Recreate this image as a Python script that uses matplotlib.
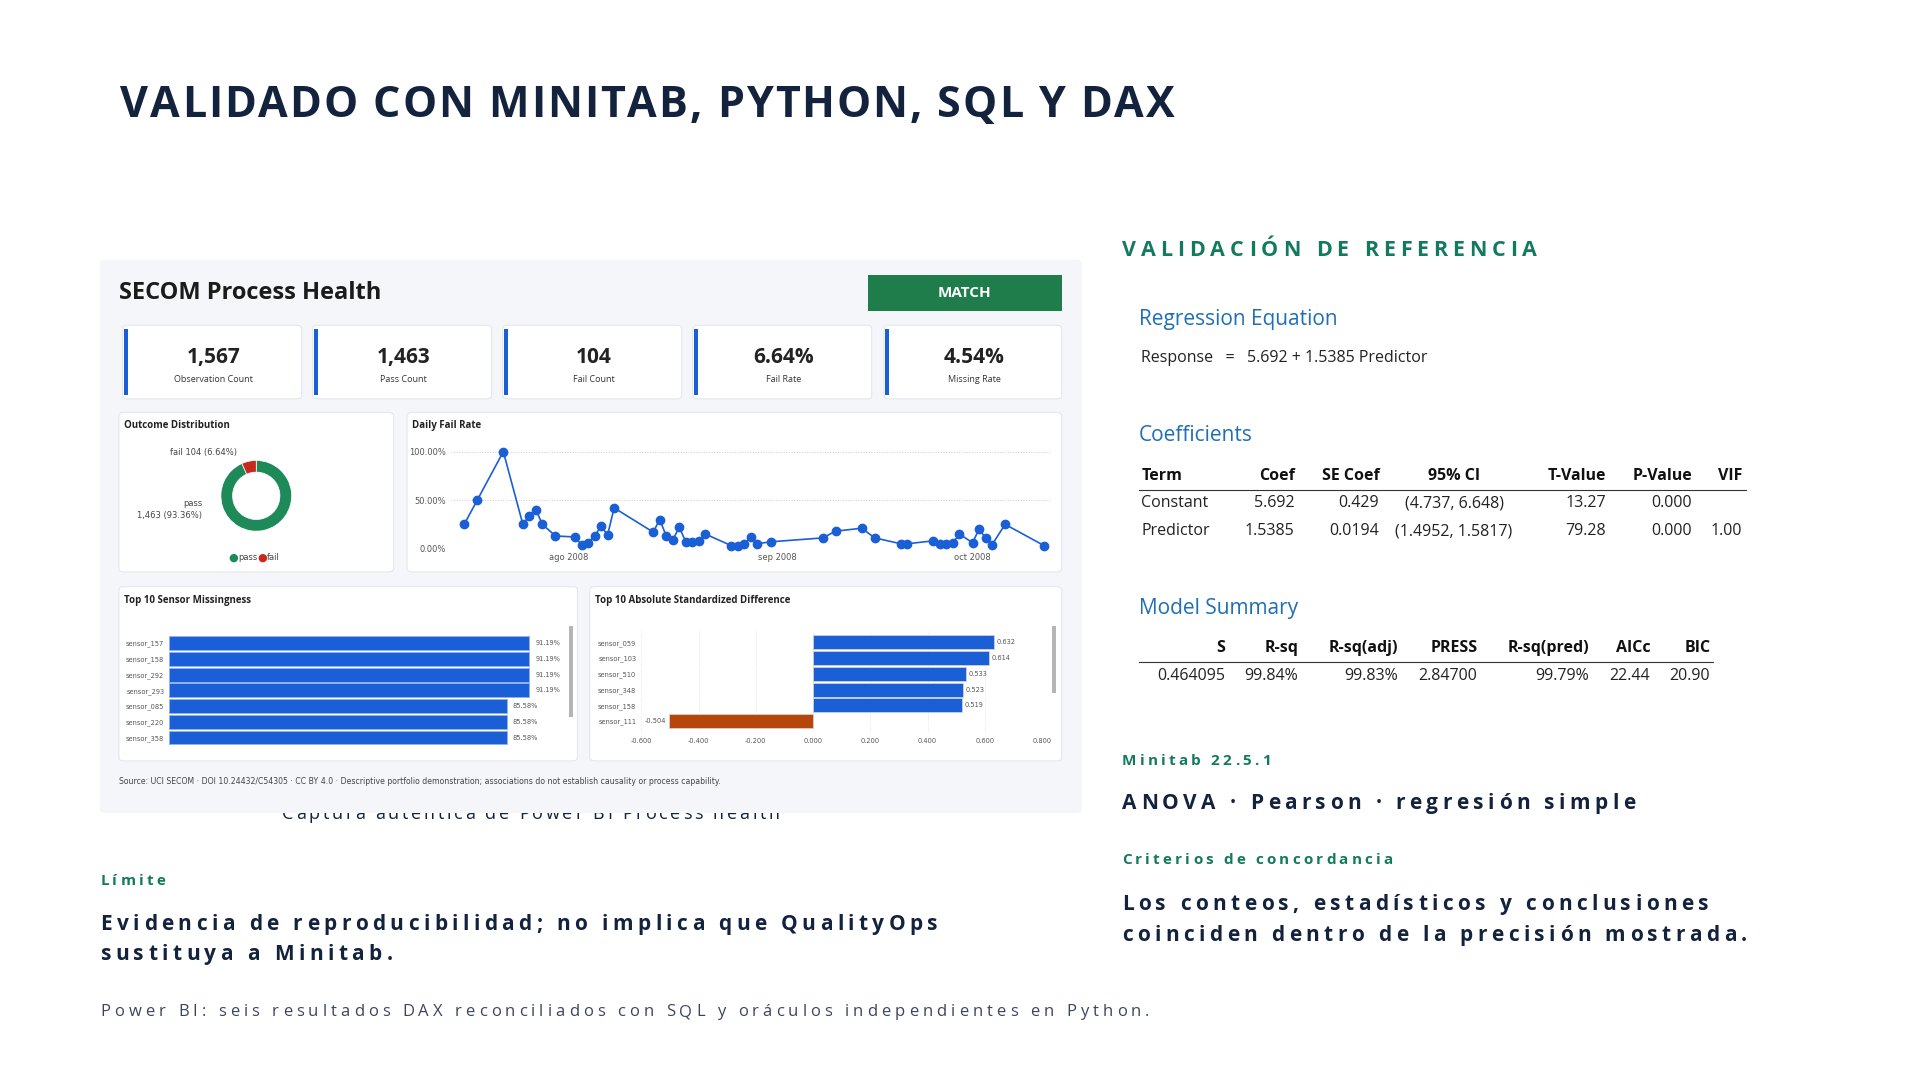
import matplotlib.pyplot as plt
from matplotlib.patches import Rectangle, FancyBboxPatch
import numpy as np
import datetime as dt

# ---- data ----
kpi_values = ["1,567", "1,463", "104", "6.64%", "4.54%"]
kpi_labels = ["Observation Count", "Pass Count", "Fail Count", "Fail Rate", "Missing Rate"]

outcome_labels = ["pass", "fail"]
outcome_counts = [1463, 104]

fail_days = ["2008-07-18", "2008-07-20", "2008-07-24", "2008-07-27", "2008-07-28", "2008-07-29",
             "2008-07-30", "2008-08-01", "2008-08-04", "2008-08-05", "2008-08-06", "2008-08-07",
             "2008-08-08", "2008-08-09", "2008-08-10", "2008-08-16", "2008-08-17", "2008-08-18",
             "2008-08-19", "2008-08-20", "2008-08-21", "2008-08-22", "2008-08-23", "2008-08-24",
             "2008-08-28", "2008-08-29", "2008-08-30", "2008-08-31", "2008-09-01", "2008-09-03",
             "2008-09-11", "2008-09-13", "2008-09-17", "2008-09-19", "2008-09-23", "2008-09-24",
             "2008-09-28", "2008-09-29", "2008-09-30", "2008-10-01", "2008-10-02", "2008-10-04",
             "2008-10-05", "2008-10-06", "2008-10-07", "2008-10-09", "2008-10-15"]
fail_rates = [25, 50, 100, 25, 34, 40, 25, 13, 12, 4, 6, 13, 23, 14, 42, 17, 30, 13, 9, 22,
              7, 7, 8, 15, 3, 3, 5, 12, 5, 7, 11, 18, 21, 11, 5, 5, 8, 5, 5, 6, 15, 6, 20,
              11, 4, 25, 3]

miss_sensors = ["sensor_157", "sensor_158", "sensor_292", "sensor_293", "sensor_085", "sensor_220", "sensor_358"]
miss_pct = [91.19, 91.19, 91.19, 91.19, 85.58, 85.58, 85.58]

diff_sensors = ["sensor_059", "sensor_103", "sensor_510", "sensor_348", "sensor_158", "sensor_111"]
diff_values = [0.632, 0.614, 0.533, 0.523, 0.519, -0.504]

coef_header = ["Term", "Coef", "SE Coef", "95% CI", "T-Value", "P-Value", "VIF"]
coef_rows = [["Constant", "5.692", "0.429", "(4.737, 6.648)", "13.27", "0.000", ""],
             ["Predictor", "1.5385", "0.0194", "(1.4952, 1.5817)", "79.28", "0.000", "1.00"]]
summ_header = ["S", "R-sq", "R-sq(adj)", "PRESS", "R-sq(pred)", "AICc", "BIC"]
summ_row = ["0.464095", "99.84%", "99.83%", "2.84700", "99.79%", "22.44", "20.90"]

# ---- layout helpers (coordinates in a design grid matching the reference preview) ----
W, H = 1566, 880
fig = plt.figure(figsize=(19.2, 10.8), dpi=100)
fig.patch.set_facecolor("white")
renderer = fig.canvas.get_renderer()

NAVY = "#13233d"
GREEN = "#137a5e"
BLUE = "#1f6fb5"
BAR = "#1a5fd6"


def fx(x):
    return x / W


def fy(y):
    return 1 - y / H


def rect_axes(x0, y0, x1, y1):
    return [fx(x0), fy(y1), fx(x1) - fx(x0), fy(y0) - fy(y1)]


def txt(x, y, s, **kw):
    kw.setdefault("va", "center")
    return fig.text(fx(x), fy(y), s, **kw)


def spaced(x, y, s, track, **kw):
    # letter by letter, with extra tracking
    cx = x
    for ch in s:
        t = txt(cx, y, ch, ha="left", **kw)
        w = t.get_window_extent(renderer).width / fig.bbox.width * W
        cx += w + track


def box(x0, y0, x1, y1, fc="white", ec="#e3e7ee", z=-1, lw=0.8):
    p = FancyBboxPatch((fx(x0), fy(y1)), fx(x1) - fx(x0), fy(y0) - fy(y1),
                       boxstyle="round,pad=0,rounding_size=0.003", transform=fig.transFigure,
                       fc=fc, ec=ec, lw=lw, zorder=z)
    fig.patches.append(p)


# ---- title ----
spaced(98, 86, "VALIDADO CON MINITAB, PYTHON, SQL Y DAX", 1.6, fontsize=31, fontweight="bold",
       color=NAVY, family="Open Sans")

# caption partly hidden behind the screenshot
spaced(230, 663, "Captura auténtica de Power BI Process health", 2.2, fontsize=13,
       color=NAVY, family="Open Sans", zorder=-3)

# ---- dashboard screenshot ----
box(82, 212, 882, 662, fc="#f4f6fa", ec="#f4f6fa", z=-2)
txt(97, 239, "SECOM Process Health", fontsize=17, fontweight="bold", color="#1b1b1b",
    family="Open Sans")
fig.patches.append(Rectangle((fx(708), fy(253)), fx(866) - fx(708), fy(224) - fy(253),
                             transform=fig.transFigure, fc="#1e7d4a", ec="none", zorder=2))
txt(787, 239, "MATCH", ha="center", fontsize=11, fontweight="bold", color="white",
    family="Open Sans", zorder=3)

card_x = [(100, 246), (255, 401), (410, 556), (565, 711), (721, 866)]
for (a, b), v, l in zip(card_x, kpi_values, kpi_labels):
    box(a, 265, b, 325)
    fig.patches.append(Rectangle((fx(a + 1), fy(322)), fx(3), fy(268) - fy(322),
                                 transform=fig.transFigure, fc=BAR, ec="none", zorder=2))
    txt((a + b) / 2 + 1, 291, v, ha="center", fontsize=15, fontweight="bold", color="#222",
        family="Open Sans")
    txt((a + b) / 2 + 1, 309, l, ha="center", fontsize=6.5, color="#333", family="Open Sans")

for (a, b, c, d, ttl) in [(97, 336, 321, 466, "Outcome Distribution"),
                          (332, 336, 866, 466, "Daily Fail Rate"),
                          (97, 478, 471, 620, "Top 10 Sensor Missingness"),
                          (481, 478, 866, 620, "Top 10 Absolute Standardized Difference")]:
    box(a, b, c, d)
    txt(a + 4, b + 11, ttl, fontsize=7, fontweight="bold", color="#222", family="Open Sans",
        zorder=3)

# donut
ax = fig.add_axes(rect_axes(172, 368, 246, 440))
ax.pie(outcome_counts, colors=["#1e8a5a", "#c62a1f"], startangle=90, counterclock=False,
       wedgeprops=dict(width=0.33, edgecolor="white", linewidth=0.5))
ax.set_aspect("equal")
txt(193, 369, f"fail {outcome_counts[1]} ({outcome_counts[1]/sum(outcome_counts)*100:.2f}%)",
    ha="right", fontsize=6, color="#444")
txt(165, 410, "pass", ha="right", fontsize=6, color="#444")
txt(165, 420, f"{outcome_counts[0]:,} ({outcome_counts[0]/sum(outcome_counts)*100:.2f}%)",
    ha="right", fontsize=6, color="#444")
fig.text(fx(186), fy(454), "\u25cf", color="#1e8a5a", fontsize=8, va="center")
txt(194, 454, "pass", fontsize=6, color="#444")
fig.text(fx(210), fy(454), "\u25cf", color="#c62a1f", fontsize=8, va="center")
txt(218, 454, "fail", fontsize=6, color="#444")

# daily fail rate
ax = fig.add_axes(rect_axes(368, 368, 857, 447))
dates = [dt.datetime.strptime(d, "%Y-%m-%d") for d in fail_days]
ax.plot(dates, fail_rates, color=BAR, lw=1.2, marker="o", ms=6, zorder=3, clip_on=False)
ax.set_ylim(0, 100)
ax.set_yticks([0, 50, 100])
ax.set_yticklabels(["0.00%", "50.00%", "100.00%"])
ax.set_xlim(dt.datetime(2008, 7, 16), dt.datetime(2008, 10, 16))
ax.set_xticks([dt.datetime(2008, 8, 3), dt.datetime(2008, 9, 4), dt.datetime(2008, 10, 4)])
ax.set_xticklabels(["ago 2008", "sep 2008", "oct 2008"])
ax.grid(axis="y", ls=":", color="#ccc", lw=0.7)
ax.tick_params(labelsize=6, colors="#555", length=0)
for s in ax.spines.values():
    s.set_visible(False)
ax.patch.set_alpha(0)

# missingness bars
ax = fig.add_axes(rect_axes(138, 514, 460, 611))
y = np.arange(len(miss_sensors))
ax.barh(y, miss_pct, height=0.88, color=BAR, edgecolor="#8fb2ee", lw=0.6)
for yi, v in zip(y, miss_pct):
    ax.text(v + 1.5, yi, f"{v:.2f}%", va="center", fontsize=4.8, color="#555")
ax.set_yticks(y)
ax.set_yticklabels(miss_sensors)
ax.invert_yaxis()
ax.set_xlim(0, 100)
ax.set_xticks([])
ax.tick_params(labelsize=4.8, colors="#555", length=0)
for s in ax.spines.values():
    s.set_visible(False)
ax.patch.set_alpha(0)
fig.patches.append(Rectangle((fx(464), fy(584)), fx(3), fy(510) - fy(584),
                             transform=fig.transFigure, fc="#b5b5b5", ec="none", zorder=2))

# standardized difference bars
ax = fig.add_axes(rect_axes(523, 514, 850, 597))
ax.set_axisbelow(True)
y = np.arange(len(diff_sensors))
cols = [BAR if v > 0 else "#b5470b" for v in diff_values]
ax.barh(y, diff_values, height=0.88, color=cols, edgecolor="#d8d8d8", lw=0.5)
for yi, v in zip(y, diff_values):
    ax.text(v + (0.01 if v > 0 else -0.01), yi, f"{v:.3f}", va="center",
            ha="left" if v > 0 else "right", fontsize=4.8, color="#555")
ax.set_yticks(y)
ax.set_yticklabels(diff_sensors)
ax.invert_yaxis()
ax.set_xlim(-0.6, 0.8)
ax.set_xticks(np.arange(-0.6, 0.81, 0.2))
ax.set_xticklabels([f"{v:.3f}" for v in np.arange(-0.6, 0.81, 0.2)])
ax.grid(axis="x", ls=":", color="#ddd", lw=0.6)
ax.tick_params(labelsize=4.8, colors="#555", length=0)
for s in ax.spines.values():
    s.set_visible(False)
ax.patch.set_alpha(0)
fig.patches.append(Rectangle((fx(858), fy(565)), fx(3), fy(510) - fy(565),
                             transform=fig.transFigure, fc="#b5b5b5", ec="none", zorder=2))

txt(97, 637, "Source: UCI SECOM \u00b7 DOI 10.24432/C54305 \u00b7 CC BY 4.0 \u00b7 Descriptive portfolio "
    "demonstration; associations do not establish causality or process capability.",
    fontsize=5.6, color="#444")

# ---- right column: Minitab output ----
spaced(915, 204, "VALIDACIÓN DE REFERENCIA", 4.0, fontsize=15.5, fontweight="bold", color=GREEN,
       family="Open Sans")
mf = "Open Sans"
txt(929, 260, "Regression Equation", fontsize=15, color=BLUE, family=mf)
txt(931, 292, "Response   =   5.692 + 1.5385 Predictor", fontsize=11.5, color="#222", family=mf)

txt(929, 355, "Coefficients", fontsize=15, color=BLUE, family=mf)
cx = [(931, "left"), (1056, "right"), (1125, "right"), (1186, "center"), (1310, "right"),
      (1380, "right"), (1421, "right")]
for (x, ha), h in zip(cx, coef_header):
    txt(x, 388, h, ha=ha, fontsize=11.5, fontweight="bold", color="#111", family=mf)
fig.add_artist(plt.Line2D([fx(929), fx(1424)], [fy(399)] * 2, color="#333", lw=0.8))
for row, yy in zip(coef_rows, [410, 433]):
    for (x, ha), v in zip(cx, row):
        txt(x, yy, v, ha=ha, fontsize=11.5, color="#222", family=mf)

txt(929, 496, "Model Summary", fontsize=15, color=BLUE, family=mf)
sx = [999, 1059, 1140, 1205, 1296, 1346, 1395]
for x, h in zip(sx, summ_header):
    txt(x, 528, h, ha="right", fontsize=11.5, fontweight="bold", color="#111", family=mf)
fig.add_artist(plt.Line2D([fx(929), fx(1397)], [fy(539)] * 2, color="#333", lw=0.8))
for x, v in zip(sx, summ_row):
    txt(x, 551, v, ha="right", fontsize=11.5, color="#222", family=mf)

spaced(915, 620, "Minitab 22.5.1", 2.6, fontsize=11, fontweight="bold", color=GREEN,
       family="Open Sans")
spaced(915, 655, "ANOVA \u00b7 Pearson \u00b7 regresión simple", 3.6, fontsize=15,
       fontweight="bold", color=NAVY, family="Open Sans")
spaced(915, 701, "Criterios de concordancia", 2.6, fontsize=11, fontweight="bold",
       color=GREEN, family="Open Sans")
spaced(915, 737, "Los conteos, estadísticos y conclusiones", 3.6, fontsize=15,
       fontweight="bold", color=NAVY, family="Open Sans")
spaced(915, 762, "coinciden dentro de la precisión mostrada.", 3.6, fontsize=15,
       fontweight="bold", color=NAVY, family="Open Sans")

# ---- left bottom ----
spaced(82, 718, "Límite", 2.6, fontsize=11, fontweight="bold", color=GREEN, family="Open Sans")
spaced(82, 753, "Evidencia de reproducibilidad; no implica que QualityOps", 3.6, fontsize=15,
       fontweight="bold", color=NAVY, family="Open Sans")
spaced(82, 778, "sustituya a Minitab.", 3.6, fontsize=15, fontweight="bold", color=NAVY,
       family="Open Sans")
spaced(82, 825, "Power BI: seis resultados DAX reconciliados con SQL y oráculos independientes en Python.",
       3.3, fontsize=12, color="#3a4660", family="Open Sans")

fig.savefig("out.png", dpi=100)
